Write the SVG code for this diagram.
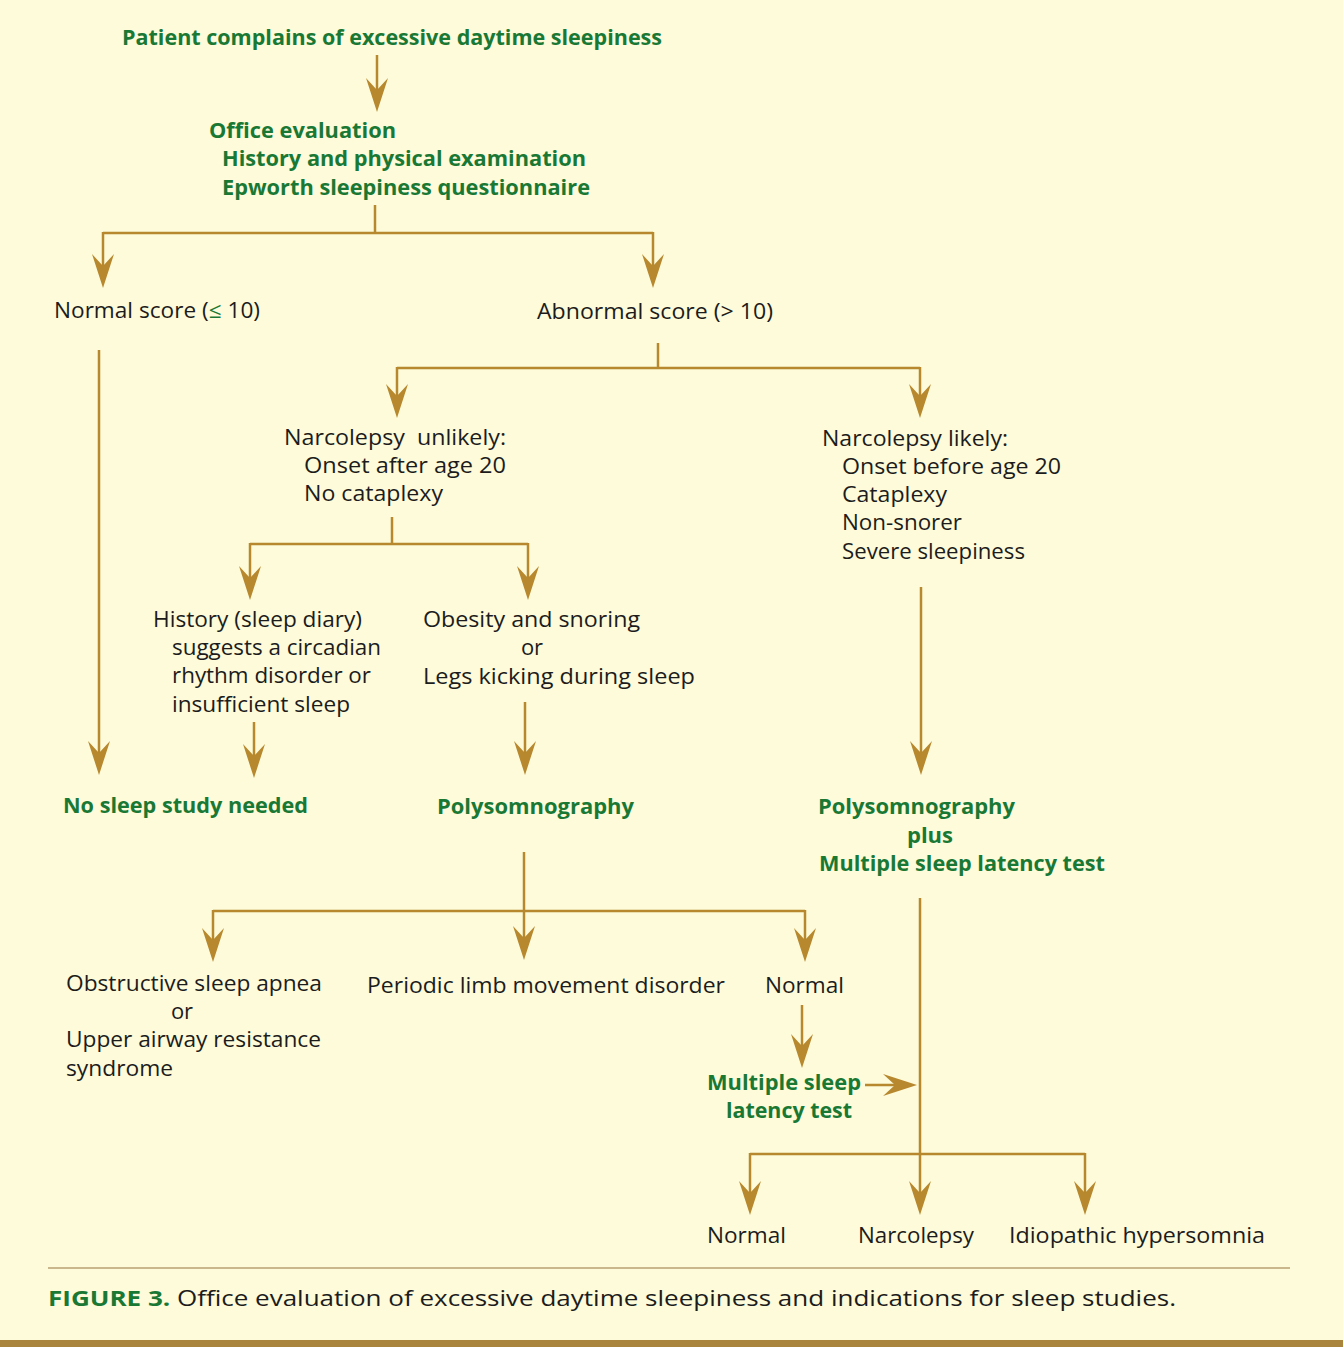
<svg xmlns="http://www.w3.org/2000/svg" width="1343" height="1347" viewBox="0 0 1343 1347">
<style>
.t{font-family:"Open Sans","Noto Sans","Liberation Sans",sans-serif;font-size:22px;fill:#1c1c1c}
.g{font-family:"Open Sans","Noto Sans","Liberation Sans",sans-serif;font-size:22px;font-weight:bold;fill:#1a7835}
.c{fill:none;stroke:#b8882e;stroke-width:2.5}
</style>
<defs>
<marker id="ah" markerUnits="userSpaceOnUse" markerWidth="34" markerHeight="22" viewBox="0 0 34 22" refX="20" refY="11" orient="auto">
<path d="M0,0 L34,11 L0,22 L12,11 Z" fill="#b8882e"/>
</marker>
</defs>
<rect width="1343" height="1347" fill="#fdfbd9"/>
<g id="connectors">
<path class="c" d="M377,55 V98" marker-end="url(#ah)"/>
<path class="c" d="M375,205 V233"/>
<path class="c" d="M103,233 H653"/>
<path class="c" d="M103,232 V274" marker-end="url(#ah)"/>
<path class="c" d="M653,232 V274" marker-end="url(#ah)"/>
<path class="c" d="M99,350 V761" marker-end="url(#ah)"/>
<path class="c" d="M658,343 V368"/>
<path class="c" d="M397,368 H920"/>
<path class="c" d="M397,367 V404" marker-end="url(#ah)"/>
<path class="c" d="M920,367 V404" marker-end="url(#ah)"/>
<path class="c" d="M392,517 V544"/>
<path class="c" d="M250,544 H528"/>
<path class="c" d="M250,543 V586" marker-end="url(#ah)"/>
<path class="c" d="M528,543 V586" marker-end="url(#ah)"/>
<path class="c" d="M254,722 V764" marker-end="url(#ah)"/>
<path class="c" d="M525,702 V761" marker-end="url(#ah)"/>
<path class="c" d="M921,587 V761" marker-end="url(#ah)"/>
<path class="c" d="M524,852 V946" marker-end="url(#ah)"/>
<path class="c" d="M213,911 H805"/>
<path class="c" d="M213,910 V948" marker-end="url(#ah)"/>
<path class="c" d="M805,910 V948" marker-end="url(#ah)"/>
<path class="c" d="M802,1005 V1054" marker-end="url(#ah)"/>
<path class="c" d="M865,1085 H903" marker-end="url(#ah)"/>
<path class="c" d="M920,898 V1201" marker-end="url(#ah)"/>
<path class="c" d="M750,1154 H1085"/>
<path class="c" d="M750,1153 V1201" marker-end="url(#ah)"/>
<path class="c" d="M1085,1153 V1201" marker-end="url(#ah)"/>
</g>
<g id="n-start"><text class="g" x="122" y="45" textLength="540" lengthAdjust="spacingAndGlyphs">Patient complains of excessive daytime sleepiness</text></g>
<g id="n-office">
<text class="g" x="209" y="138" textLength="187" lengthAdjust="spacingAndGlyphs">Office evaluation</text>
<text class="g" x="222" y="166" textLength="364" lengthAdjust="spacingAndGlyphs">History and physical examination</text>
<text class="g" x="222" y="195" textLength="368" lengthAdjust="spacingAndGlyphs">Epworth sleepiness questionnaire</text>
</g>
<g id="n-normal-score"><text class="t" x="54" y="318" textLength="206" lengthAdjust="spacingAndGlyphs">Normal score (<tspan fill="#1a7835">≤</tspan> 10)</text></g>
<g id="n-abnormal-score"><text class="t" x="537" y="319" textLength="236" lengthAdjust="spacingAndGlyphs">Abnormal score (&gt; 10)</text></g>
<g id="n-unlikely">
<text class="t" x="284" y="445" textLength="222" lengthAdjust="spacingAndGlyphs">Narcolepsy&#160; unlikely:</text>
<text class="t" x="304" y="473" textLength="202" lengthAdjust="spacingAndGlyphs">Onset after age 20</text>
<text class="t" x="304" y="501" textLength="139" lengthAdjust="spacingAndGlyphs">No cataplexy</text>
</g>
<g id="n-likely">
<text class="t" x="822" y="446" textLength="186" lengthAdjust="spacingAndGlyphs">Narcolepsy likely:</text>
<text class="t" x="842" y="474" textLength="219" lengthAdjust="spacingAndGlyphs">Onset before age 20</text>
<text class="t" x="842" y="502" textLength="105" lengthAdjust="spacingAndGlyphs">Cataplexy</text>
<text class="t" x="842" y="530" textLength="120" lengthAdjust="spacingAndGlyphs">Non-snorer</text>
<text class="t" x="842" y="559" textLength="183" lengthAdjust="spacingAndGlyphs">Severe sleepiness</text>
</g>
<g id="n-history">
<text class="t" x="153" y="627" textLength="209" lengthAdjust="spacingAndGlyphs">History (sleep diary)</text>
<text class="t" x="172" y="655" textLength="209" lengthAdjust="spacingAndGlyphs">suggests a circadian</text>
<text class="t" x="172" y="683" textLength="199" lengthAdjust="spacingAndGlyphs">rhythm disorder or</text>
<text class="t" x="172" y="712" textLength="178" lengthAdjust="spacingAndGlyphs">insufficient sleep</text>
</g>
<g id="n-obesity">
<text class="t" x="423" y="627" textLength="217" lengthAdjust="spacingAndGlyphs">Obesity and snoring</text>
<text class="t" x="532" y="655" text-anchor="middle">or</text>
<text class="t" x="423" y="684" textLength="272" lengthAdjust="spacingAndGlyphs">Legs kicking during sleep</text>
</g>
<g id="n-no-study"><text class="g" x="63" y="813" textLength="245" lengthAdjust="spacingAndGlyphs">No sleep study needed</text></g>
<g id="n-psg"><text class="g" x="437" y="814" textLength="197" lengthAdjust="spacingAndGlyphs">Polysomnography</text></g>
<g id="n-psg-mslt">
<text class="g" x="818" y="814" textLength="197" lengthAdjust="spacingAndGlyphs">Polysomnography</text>
<text class="g" x="930" y="843" text-anchor="middle">plus</text>
<text class="g" x="819" y="871" textLength="286" lengthAdjust="spacingAndGlyphs">Multiple sleep latency test</text>
</g>
<g id="n-osa">
<text class="t" x="66" y="991" textLength="256" lengthAdjust="spacingAndGlyphs">Obstructive sleep apnea</text>
<text class="t" x="182" y="1019" text-anchor="middle">or</text>
<text class="t" x="66" y="1047" textLength="255" lengthAdjust="spacingAndGlyphs">Upper airway resistance</text>
<text class="t" x="66" y="1076" textLength="107" lengthAdjust="spacingAndGlyphs">syndrome</text>
</g>
<g id="n-plmd"><text class="t" x="367" y="993" textLength="358" lengthAdjust="spacingAndGlyphs">Periodic limb movement disorder</text></g>
<g id="n-normal-psg"><text class="t" x="765" y="993" textLength="79" lengthAdjust="spacingAndGlyphs">Normal</text></g>
<g id="n-mslt">
<text class="g" x="707" y="1090" textLength="154" lengthAdjust="spacingAndGlyphs">Multiple sleep</text>
<text class="g" x="726" y="1118" textLength="126" lengthAdjust="spacingAndGlyphs">latency test</text>
</g>
<g id="n-normal-final"><text class="t" x="707" y="1243" textLength="79" lengthAdjust="spacingAndGlyphs">Normal</text></g>
<g id="n-narcolepsy"><text class="t" x="858" y="1243" textLength="116" lengthAdjust="spacingAndGlyphs">Narcolepsy</text></g>
<g id="n-idiopathic"><text class="t" x="1009" y="1243" textLength="256" lengthAdjust="spacingAndGlyphs">Idiopathic hypersomnia</text></g>
<line x1="48" y1="1268" x2="1290" y2="1268" stroke="#b8a070" stroke-width="1.5"/>
<text class="t" x="48" y="1306" textLength="1128" lengthAdjust="spacingAndGlyphs"><tspan style="font-weight:bold;fill:#1a7835">FIGURE 3.</tspan> Office evaluation of excessive daytime sleepiness and indications for sleep studies.</text>
<rect x="0" y="1340" width="1343" height="7" fill="#a8843c"/>
</svg>
